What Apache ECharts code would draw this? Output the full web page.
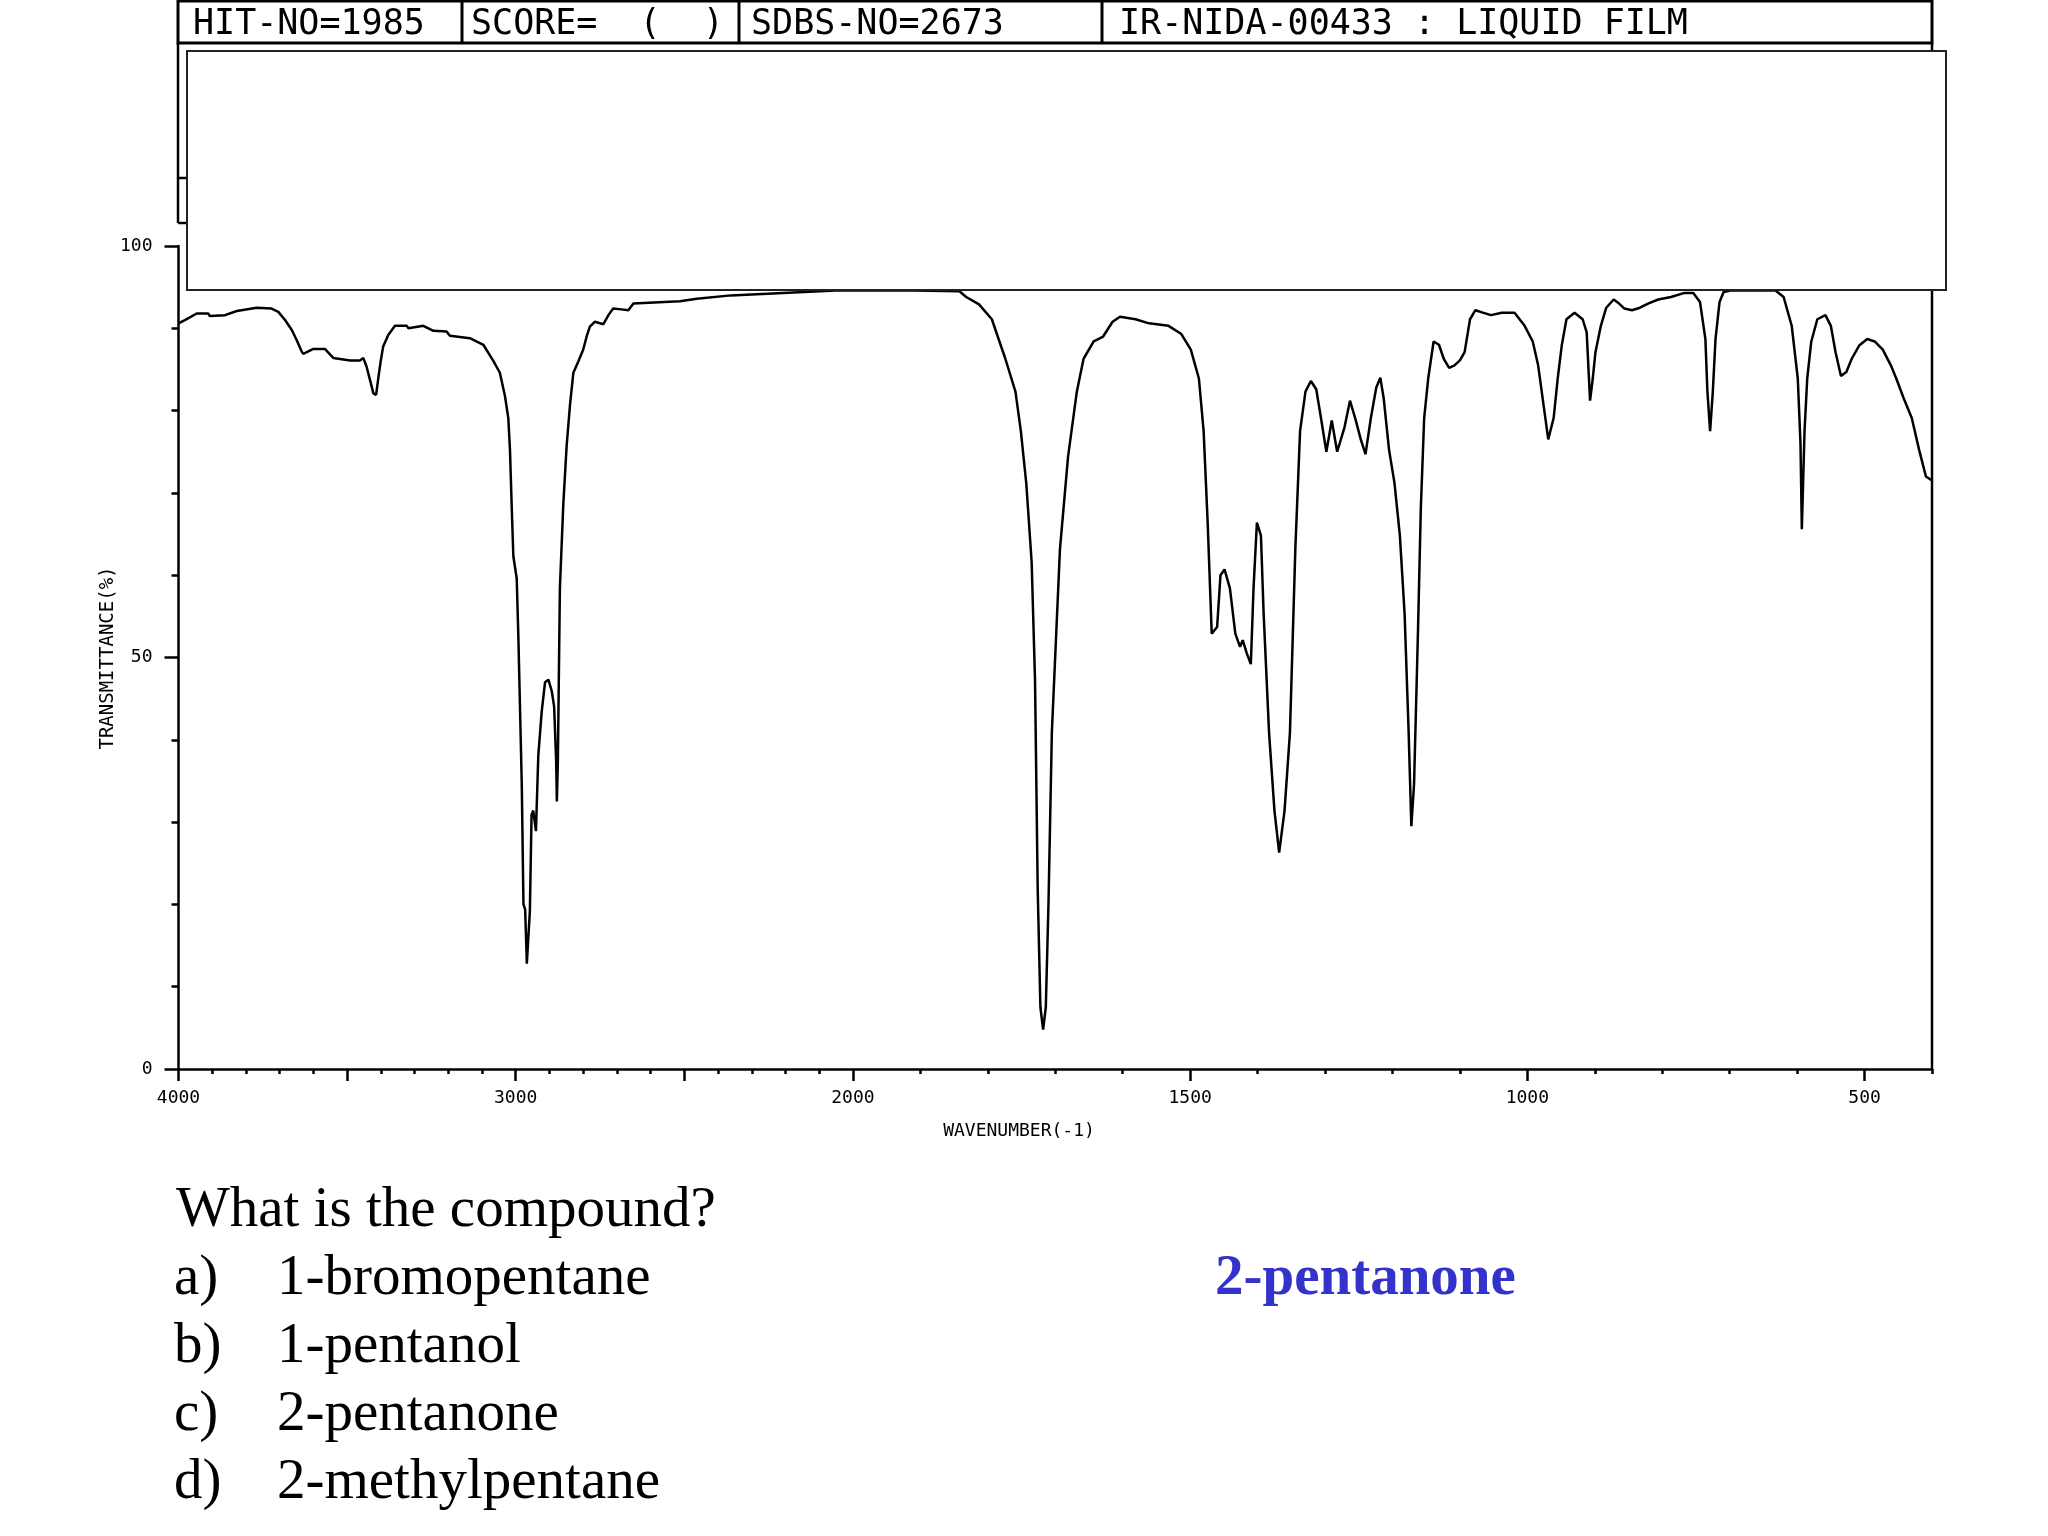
<!DOCTYPE html>
<html>
<head>
<meta charset="utf-8">
<script src="https://cdn.jsdelivr.net/npm/echarts@6/dist/echarts.min.js"></script>
<style>
html,body{margin:0;padding:0;background:#fff;}
#chart{width:2048px;height:1536px;}
</style>
</head>
<body>
<div id="chart"></div>
<script>
// ---- Spectrum data (wavenumber, cm-1  /  transmittance, %) ----
const wavenumbers = [
4000,3981,3946,3912,3907,3862,3827,3768,3724,3704,3684,3664,3650,3635,3630,3600,3566,3541,3491,3462,
3452,3442,3432,3422,3414,3407,3400,3393,3378,3358,3323,3318,3274,3244,3205,3195,3136,3096,3066,3047,
3032,3022,3017,3012,3007,2997,2992,2982,2977,2972,2967,2958,2953,2948,2940,2933,2923,2913,2903,2893,
2886,2880,2878,2875,2869,2859,2849,2839,2829,2814,2800,2789,2780,2765,2740,2725,2711,2686,2666,2651,
2513,2463,2362,2207,2052,2000,1910,1842,1832,1813,1794,1774,1759,1751,1743,1735,1730,1726,1722,1718,
1714,1710,1705,1693,1681,1668,1658,1643,1629,1615,1604,1581,1561,1532,1513,1499,1487,1480,1474,1468,
1460,1455,1449,1441,1433,1426,1422,1416,1410,1406,1401,1395,1391,1383,1375,1368,1360,1352,1344,1337,
1329,1321,1313,1306,1298,1290,1282,1271,1263,1255,1247,1240,1232,1224,1218,1213,1205,1197,1189,1182,
1176,1172,1168,1162,1158,1153,1147,1139,1131,1124,1116,1108,1100,1093,1085,1077,1066,1054,1038,1019,
1004,992,984,976,969,961,955,949,942,930,918,912,907,903,899,891,883,872,864,856,
845,833,821,806,787,767,754,744,736,733,729,725,721,715,709,699,632,620,608,599,
595,593,589,585,579,570,558,550,543,535,527,519,508,496,485,473,461,453,442,430,
419,409,400
];
const transmittance = [
90.6,91.0,91.8,91.8,91.5,91.6,92.1,92.5,92.4,92.0,91.0,89.8,88.6,87.2,86.9,87.5,87.5,86.4,86.1,86.1,
86.4,85.3,83.7,82.1,81.9,84.1,86.1,87.8,89.2,90.3,90.3,90.0,90.3,89.7,89.6,89.1,88.8,88.0,86.0,84.6,
81.8,79.1,75.2,68.5,62.3,59.6,52.3,34.5,20.0,19.4,12.8,19.2,30.9,31.4,28.9,38.1,43.4,47.0,47.3,45.9,
44.0,37.3,32.5,37.3,58.4,68.5,75.7,80.7,84.6,86.0,87.4,89.1,90.2,90.8,90.5,91.6,92.4,92.3,92.2,93.0,
93.3,93.6,94.0,94.3,94.6,94.6,94.6,94.5,93.8,92.9,91.1,86.3,82.3,77.5,71.2,61.6,47.3,21.8,7.5,4.8,
7.5,20.2,41.0,63.2,74.4,82.3,86.3,88.4,89.0,90.8,91.4,91.1,90.6,90.3,89.3,87.4,83.9,77.5,66.4,52.9,
53.7,60.0,60.7,58.4,52.9,51.3,52.1,50.5,49.2,58.4,66.4,64.8,55.3,40.9,31.4,26.3,31.4,40.9,63.2,77.5,
82.3,83.6,82.6,79.1,75.0,78.8,75.0,78.0,81.2,79.0,76.5,74.7,79.1,82.8,84.0,81.5,75.2,71.2,64.8,55.3,
40.9,29.5,34.6,53.7,68.0,79.1,83.9,88.4,88.0,86.3,85.2,85.5,86.1,87.1,91.1,92.2,91.9,91.6,91.9,91.9,
90.3,88.4,85.5,80.7,76.5,79.1,83.9,87.9,91.1,91.9,91.1,89.5,81.2,83.9,87.1,90.3,92.5,93.5,93.0,92.4,
92.2,92.5,93.0,93.5,93.8,94.3,94.3,93.2,88.7,82.3,77.5,82.3,88.7,93.2,94.4,94.6,94.6,93.8,90.3,83.9,
76.0,65.6,77.5,83.9,88.4,91.1,91.6,90.3,87.1,84.2,84.7,86.3,87.9,88.7,88.4,87.4,85.5,83.9,81.5,79.1,
75.2,72.0,71.5
];
const xTickLabels = ['4000','3000','2000','1500','1000','500'];
const yTickLabels = ['0','50','100'];
const headerTexts = ['HIT-NO=1985','SCORE=  (  )','SDBS-NO=2673','IR-NIDA-00433 : LIQUID FILM'];
const question = 'What is the compound?';
const choiceLetters = ['a)','b)','c)','d)'];
const choiceNames = ['1-bromopentane','1-pentanol','2-pentanone','2-methylpentane'];
const answer = '2-pentanone';

// Instrument scale: 4000-2000 at 1000 cm-1 per unit, 2000-400 at 500 cm-1 per unit
const toAxis = wn => wn >= 2000 ? (4000 - wn) / 1000 : 2 + (2000 - wn) / 500;
const xTickWn = xTickLabels.map(Number);
const xMajor = xTickWn.map(toAxis);
const xMajorTicks = xMajor.concat([toAxis(3500), toAxis(2500)]);
const xMinor = [];
for (let w = 3900; w >= 2100; w -= 100) if (w % 500 !== 0) xMinor.push(toAxis(w));
for (let w = 1900; w >= 400; w -= 100) if (w % 500 !== 0) xMinor.push(toAxis(w));
const yMajor = yTickLabels.map(Number);
const yMinor = [10,20,30,40,60,70,80,90];

const data = wavenumbers.map((w, i) => [toAxis(w), transmittance[i]]);

const chart = echarts.init(document.getElementById('chart'), null, {renderer: 'canvas'});
const monoFont = "'DejaVu Sans Mono', monospace";
const serif = "'Liberation Serif', 'Times New Roman', serif";

const headerX = [193, 471, 751, 1119];
const graphics = [
  // header box
  {type:'rect', shape:{x:178, y:1, width:1754, height:42}, style:{fill:'#fff', stroke:'#000', lineWidth:3}, z:50},
  {type:'line', shape:{x1:462, y1:1, x2:462, y2:43}, style:{stroke:'#000', lineWidth:3}, z:51},
  {type:'line', shape:{x1:739, y1:1, x2:739, y2:43}, style:{stroke:'#000', lineWidth:3}, z:51},
  {type:'line', shape:{x1:1102, y1:1, x2:1102, y2:43}, style:{stroke:'#000', lineWidth:3}, z:51},
  // frame pieces
  {type:'line', shape:{x1:178, y1:43, x2:178, y2:223}, style:{stroke:'#000', lineWidth:2.5}, z:50},
  {type:'line', shape:{x1:178, y1:178, x2:187, y2:178}, style:{stroke:'#000', lineWidth:2.5}, z:50},
  {type:'line', shape:{x1:178, y1:223, x2:187, y2:223}, style:{stroke:'#000', lineWidth:2.5}, z:50},
  {type:'line', shape:{x1:1932, y1:43, x2:1932, y2:1069}, style:{stroke:'#000', lineWidth:2.5}, z:50},
  // blank cover box
  {type:'rect', shape:{x:187, y:51, width:1759, height:239}, style:{fill:'#fff', stroke:'#222', lineWidth:2}, z:60},
  // axis names
  {type:'text', x:1019, y:1131, style:{text:'WAVENUMBER(-1)', font:"18px " + monoFont, fill:'#000', textAlign:'center', textVerticalAlign:'middle'}, z:50},
  {type:'text', x:108, y:658, rotation:Math.PI/2, style:{text:'TRANSMITTANCE(%)', font:"19px " + monoFont, fill:'#000', textAlign:'center', textVerticalAlign:'middle'}, z:50},
  // question text
  {type:'text', x:176, y:1211, style:{text:question, font:"57px " + serif, fill:'#000', textAlign:'left', textVerticalAlign:'middle'}, z:50}
];
headerTexts.forEach((t, i) => graphics.push({type:'text', x:headerX[i], y:25, style:{text:t, font:"35px " + monoFont, fill:'#000', textAlign:'left', textVerticalAlign:'middle'}, z:55}));
choiceLetters.forEach((t, i) => {
  const y = 1279 + i * 68;
  graphics.push({type:'text', x:174, y:y, style:{text:t, font:"57px " + serif, fill:'#000', textAlign:'left', textVerticalAlign:'middle'}, z:50});
  graphics.push({type:'text', x:277, y:y, style:{text:choiceNames[i], font:"57px " + serif, fill:'#000', textAlign:'left', textVerticalAlign:'middle'}, z:50});
});
graphics.push({type:'text', x:1215, y:1279, style:{text:answer, font:"bold 57px " + serif, fill:'#3333cc', textAlign:'left', textVerticalAlign:'middle'}, z:50});

const option = {
  animation: false,
  backgroundColor: '#fff',
  grid: {left: 178.5, right: 116, top: 246, bottom: 467, containLabel: false},
  xAxis: [
    {type:'value', min:0, max:5.2, position:'bottom',
     axisLine:{show:true, onZero:false, lineStyle:{color:'#000', width:2.5}},
     axisTick:{show:true, customValues:xMajorTicks, length:12, lineStyle:{color:'#000', width:2.5}},
     axisLabel:{show:true, customValues:xMajor, margin:20, color:'#000', fontFamily:'DejaVu Sans Mono', fontSize:18,
       formatter: v => { const k = xMajor.findIndex(m => Math.abs(m - v) < 1e-6); return k >= 0 ? xTickLabels[k] : ''; }},
     splitLine:{show:false}},
    {type:'value', min:0, max:5.2, position:'bottom',
     axisLine:{show:false, onZero:false},
     axisTick:{show:true, customValues:xMinor, length:5, lineStyle:{color:'#000', width:2.5}},
     axisLabel:{show:false}, splitLine:{show:false}}
  ],
  yAxis: [
    {type:'value', min:0, max:100, position:'left',
     axisLine:{show:true, onZero:false, lineStyle:{color:'#000', width:2.5}},
     axisTick:{show:true, customValues:yMajor, length:14, lineStyle:{color:'#000', width:2.5}},
     axisLabel:{show:true, customValues:yMajor, margin:26, color:'#000', fontFamily:'DejaVu Sans Mono', fontSize:18},
     splitLine:{show:false}},
    {type:'value', min:0, max:100, position:'left',
     axisLine:{show:false, onZero:false},
     axisTick:{show:true, customValues:yMinor, length:7, lineStyle:{color:'#000', width:2.5}},
     axisLabel:{show:false}, splitLine:{show:false}}
  ],
  series: [{
    type:'line', xAxisIndex:0, yAxisIndex:0, data:data, showSymbol:false, symbol:'none',
    lineStyle:{color:'#000', width:2.5}, z:10
  }],
  graphic: graphics
};
chart.setOption(option);
</script>
</body>
</html>
